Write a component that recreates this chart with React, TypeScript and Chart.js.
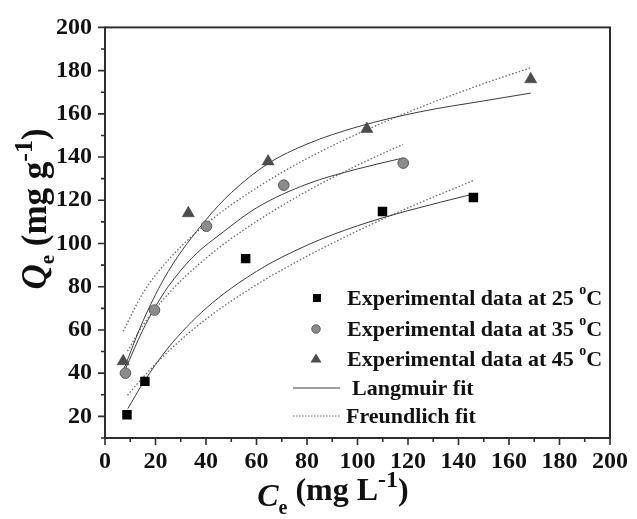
import React, { useEffect, useRef } from 'react';
import { Chart, registerables } from 'chart.js';

Chart.register(...registerables);

// ---------- data ----------
const xTickLabels = [0, 20, 40, 60, 80, 100, 120, 140, 160, 180, 200];
const yTickLabels = [20, 40, 60, 80, 100, 120, 140, 160, 180, 200];
const xMinorTicks = [10, 30, 50, 70, 90, 110, 130, 150, 170, 190];
const yMinorTicks = [10, 30, 50, 70, 90, 110, 130, 150, 170, 190];

const exp25X = [8.7, 15.8, 55.7, 109.9, 145.9];
const exp25Y = [20.8, 36.2, 93.0, 114.8, 121.3];
const exp35X = [8.1, 19.6, 40.2, 70.8, 118.1];
const exp35Y = [40.0, 69.2, 108.0, 127.0, 137.2];
const exp45X = [7.2, 33.0, 64.6, 103.7, 168.6];
const exp45Y = [45.5, 114.0, 138.0, 153.0, 176.0];

const lang25X = [9, 15, 25, 40, 60, 80, 100, 120, 145.5];
const lang25Y = [23.5, 35.3, 51.7, 70.0, 87.1, 99.2, 108.2, 115.2, 122.8];
const fre25X = [8.9, 15, 25, 40, 60, 80, 100, 120, 146];
const fre25Y = [29.8, 38.0, 50.0, 65.0, 80.9, 94.1, 105.8, 116.5, 129.2];

const lang35X = [8.1, 15, 19.6, 25, 35, 47, 60, 80, 100, 117.8];
const lang35Y = [42, 60, 70, 80, 94, 105.5, 116.5, 127.5, 134.5, 139.5];
const fre35X = [8.9, 15, 20, 30, 45, 60, 80, 100, 118];
const fre35Y = [50.2, 62.1, 69.9, 82.7, 97.9, 110.2, 124.2, 136.2, 145.9];

const lang45X = [7.2, 15, 25, 40, 50, 64.6, 80, 100, 125, 150, 168.6];
const lang45Y = [41, 64, 87, 111, 123.5, 137, 146, 154, 161, 166, 169.6];
const fre45X = [7.2, 15, 25, 40, 60, 80, 100, 125, 150, 168.3];
const fre45Y = [59.4, 77.0, 92.3, 109, 125.7, 139.3, 150.7, 163.1, 174.0, 181.2];

const legendLabels = [
  'Experimental data at 25',
  'Experimental data at 35',
  'Experimental data at 45',
  'Langmuir fit',
  'Freundlich fit',
];

// ---------- styles ----------
const FONT = '"Liberation Serif", "Times New Roman", serif';
const SOLID = '#3c3c3c';
const DOTTED = '#6a6a6a';
const SQ_COLOR = '#000000';
const CIRC_FILL = '#8c8c8c';
const CIRC_EDGE = '#5a5a5a';
const TRI_FILL = '#4d4d4d';
const TRI_EDGE = '#3a3a3a';

const pts = (xs: number[], ys: number[]) => xs.map((x, i) => ({ x, y: ys[i] }));

type Run = { t: string; f: string; dy: number };
function drawRuns(ctx: CanvasRenderingContext2D, runs: Run[], cx: number, baseY: number) {
  let total = 0;
  const ws = runs.map((r) => {
    ctx.font = r.f;
    const w = ctx.measureText(r.t).width;
    total += w;
    return w;
  });
  let x = cx - total / 2;
  ctx.textAlign = 'left';
  ctx.textBaseline = 'alphabetic';
  runs.forEach((r, i) => {
    ctx.font = r.f;
    ctx.fillText(r.t, x, baseY + r.dy);
    x += ws[i];
  });
}

const decorPlugin = {
  id: 'decor',
  afterDraw(chart: any) {
    const { ctx, chartArea: a } = chart;
    const xs = chart.scales.x;
    const ys = chart.scales.y;
    ctx.save();
    // frame
    ctx.strokeStyle = '#2e2e2e';
    ctx.lineWidth = 2;
    ctx.strokeRect(a.left, a.top, a.right - a.left, a.bottom - a.top);
    // ticks (outward)
    ctx.lineWidth = 1.6;
    ctx.beginPath();
    xTickLabels.forEach((v) => {
      const p = xs.getPixelForValue(v);
      ctx.moveTo(p, a.bottom);
      ctx.lineTo(p, a.bottom + 7);
    });
    xMinorTicks.forEach((v) => {
      const p = xs.getPixelForValue(v);
      ctx.moveTo(p, a.bottom);
      ctx.lineTo(p, a.bottom + 4);
    });
    yTickLabels.forEach((v) => {
      const p = ys.getPixelForValue(v);
      ctx.moveTo(a.left, p);
      ctx.lineTo(a.left - 7, p);
    });
    yMinorTicks.forEach((v) => {
      const p = ys.getPixelForValue(v);
      ctx.moveTo(a.left, p);
      ctx.lineTo(a.left - 4, p);
    });
    ctx.stroke();

    // axis titles
    ctx.fillStyle = '#111';
    drawRuns(
      ctx,
      [
        { t: 'C', f: `italic bold 32px ${FONT}`, dy: 6 },
        { t: 'e', f: `bold 20px ${FONT}`, dy: 14 },
        { t: ' (mg L', f: `bold 32px ${FONT}`, dy: 0 },
        { t: '-1', f: `bold 24px ${FONT}`, dy: -13 },
        { t: ')', f: `bold 32px ${FONT}`, dy: 0 },
      ],
      333,
      500
    );
    ctx.save();
    ctx.translate(46, 209);
    ctx.rotate(-Math.PI / 2);
    drawRuns(
      ctx,
      [
        { t: 'Q', f: `italic bold 35px ${FONT}`, dy: 0 },
        { t: 'e', f: `bold 21px ${FONT}`, dy: 8 },
        { t: ' (mg g', f: `bold 35px ${FONT}`, dy: 0 },
        { t: '-1', f: `bold 26px ${FONT}`, dy: -14 },
        { t: ')', f: `bold 35px ${FONT}`, dy: 0 },
      ],
      0,
      0
    );
    ctx.restore();

    // legend
    const lf = `bold 22px ${FONT}`;
    const degF = `bold 14px ${FONT}`;
    const rowY = [298, 329, 359, 388, 416];
    ctx.fillStyle = SQ_COLOR;
    ctx.fillRect(317 - 4, rowY[0] - 4, 8, 8);
    ctx.beginPath();
    ctx.arc(316, rowY[1], 4.2, 0, Math.PI * 2);
    ctx.fillStyle = CIRC_FILL;
    ctx.fill();
    ctx.lineWidth = 1;
    ctx.strokeStyle = CIRC_EDGE;
    ctx.stroke();
    ctx.beginPath();
    ctx.moveTo(316, rowY[2] - 5.5);
    ctx.lineTo(321.5, rowY[2] + 3.5);
    ctx.lineTo(310.5, rowY[2] + 3.5);
    ctx.closePath();
    ctx.fillStyle = TRI_FILL;
    ctx.fill();
    ctx.lineWidth = 1;
    ctx.strokeStyle = SOLID;
    ctx.beginPath();
    ctx.moveTo(293, rowY[3]);
    ctx.lineTo(340, rowY[3]);
    ctx.stroke();
    ctx.strokeStyle = DOTTED;
    ctx.setLineDash([1.5, 1.5]);
    ctx.beginPath();
    ctx.moveTo(293, rowY[4]);
    ctx.lineTo(340, rowY[4]);
    ctx.stroke();
    ctx.setLineDash([]);

    ctx.fillStyle = '#111';
    ctx.textAlign = 'left';
    ctx.textBaseline = 'alphabetic';
    for (let i = 0; i < 3; i++) {
      const base = rowY[i] + 7;
      ctx.font = lf;
      const t = legendLabels[i] + ' ';
      ctx.fillText(t, 347, base);
      let x = 347 + ctx.measureText(t).width;
      ctx.font = degF;
      ctx.fillText('o', x, base - 11);
      x += ctx.measureText('o').width;
      ctx.font = lf;
      ctx.fillText('C', x, base);
    }
    ctx.font = lf;
    ctx.fillText(legendLabels[3], 352, rowY[3] + 7);
    ctx.fillText(legendLabels[4], 346, rowY[4] + 7);
    ctx.restore();
  },
};

export default function App() {
  const ref = useRef<HTMLCanvasElement>(null);
  useEffect(() => {
    document.body.style.margin = '0';
    const curve = (xs: number[], ys: number[], dotted: boolean) => ({
      data: pts(xs, ys),
      showLine: true,
      borderColor: dotted ? DOTTED : SOLID,
      borderWidth: dotted ? 1.3 : 1,
      borderDash: dotted ? [1.5, 2] : [],
      pointRadius: 0,
      tension: 0.4,
      cubicInterpolationMode: 'monotone',
      fill: false,
    });
    const chart = new Chart(ref.current as HTMLCanvasElement, {
      type: 'scatter',
      data: {
        datasets: [
          {
            data: pts(exp25X, exp25Y),
            pointStyle: 'rect',
            pointRadius: 6.7,
            backgroundColor: SQ_COLOR,
            borderColor: SQ_COLOR,
            borderWidth: 0,
          },
          {
            data: pts(exp35X, exp35Y),
            pointStyle: 'circle',
            pointRadius: 5.3,
            backgroundColor: CIRC_FILL,
            borderColor: CIRC_EDGE,
            borderWidth: 1,
          },
          {
            data: pts(exp45X, exp45Y),
            pointStyle: 'triangle',
            pointRadius: 7,
            backgroundColor: TRI_FILL,
            borderColor: TRI_EDGE,
            borderWidth: 0.5,
          },
          curve(lang25X, lang25Y, false),
          curve(lang35X, lang35Y, false),
          curve(lang45X, lang45Y, false),
          curve(fre25X, fre25Y, true),
          curve(fre35X, fre35Y, true),
          curve(fre45X, fre45Y, true),
        ] as any,
      },
      options: {
        animation: false,
        responsive: false,
        layout: { padding: { left: 0, top: 23, right: 21, bottom: 0 } },
        plugins: { legend: { display: false }, tooltip: { enabled: false } },
        scales: {
          x: {
            type: 'linear',
            min: 0,
            max: 200,
            grid: { display: false, drawTicks: false },
            border: { display: false },
            afterBuildTicks: (s: any) => {
              s.ticks = xTickLabels.map((v) => ({ value: v }));
            },
            afterFit: (s: any) => {
              s.height = 81;
            },
            ticks: {
              padding: 9,
              color: '#111',
              font: { family: FONT, size: 24, weight: 'bold' },
              maxRotation: 0,
            },
          },
          y: {
            type: 'linear',
            min: 10,
            max: 200,
            grid: { display: false, drawTicks: false },
            border: { display: false },
            afterBuildTicks: (s: any) => {
              s.ticks = yTickLabels.map((v) => ({ value: v }));
            },
            afterFit: (s: any) => {
              s.width = 105;
            },
            ticks: {
              padding: 13,
              color: '#111',
              font: { family: FONT, size: 24, weight: 'bold' },
            },
          },
        },
      } as any,
      plugins: [decorPlugin],
    });
    return () => chart.destroy();
  }, []);
  return (
    <div style={{ width: 637, height: 519, background: '#fff' }}>
      <canvas ref={ref} width={637} height={519} style={{ display: 'block' }} />
    </div>
  );
}
